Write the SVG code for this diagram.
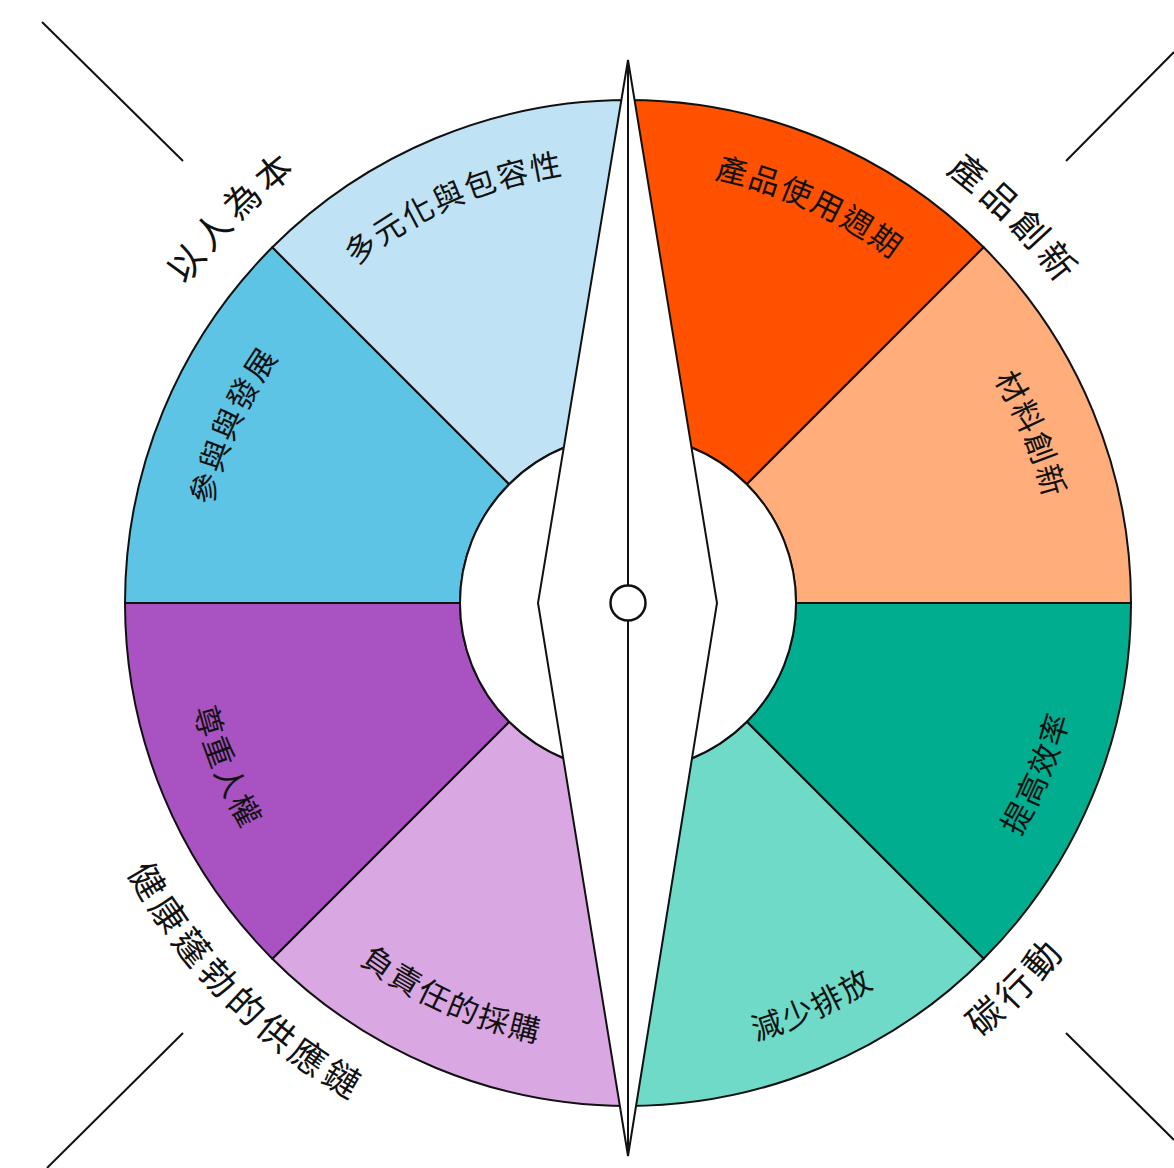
<svg xmlns="http://www.w3.org/2000/svg" xmlns:xlink="http://www.w3.org/1999/xlink" width="1174" height="1168" viewBox="0 0 1174 1168">
<style>
.sec{stroke:#111;stroke-width:2;stroke-linejoin:round}
.ln{stroke:#111;stroke-width:2;fill:none}
.in{font-family:"Noto Sans CJK TC","Noto Sans CJK SC",sans-serif;font-size:31px;letter-spacing:2px;fill:#111}
.out{font-family:"Noto Sans CJK TC","Noto Sans CJK SC",sans-serif;font-size:36px;letter-spacing:5px;fill:#111}
</style>
<defs>
<path id="p1" d="M513.01,185.54 A433,433 0 0 1 1019.15,417.27"/>
<path id="p2" d="M239.85,411.15 A433,433 0 0 1 749.53,187.40"/>
<path id="p3" d="M824.76,221.78 A429,429 0 0 1 1037.59,730.57"/>
<path id="p4" d="M217.13,719.26 A427,427 0 0 1 442.16,218.56"/>
<path id="p5" d="M224.10,799.15 A449,449 0 0 0 751.01,1034.82"/>
<path id="p6" d="M506.90,1042.63 A456,456 0 0 0 1039.92,798.60"/>
<path id="p7" d="M837.85,1007.85 A456,456 0 0 0 1063.13,466.64"/>
<path id="p8" d="M202.40,466.35 A447,447 0 0 0 419.53,998.41"/>
<path id="p9" d="M85.03,562.17 A544.5,544.5 0 0 1 573.92,61.19"/>
<path id="p10" d="M676.07,69.66 A535.5,535.5 0 0 1 1161.58,557.72"/>
<path id="p11" d="M61.45,650.08 A568.5,568.5 0 0 0 575.98,1169.11"/>
<path id="p12" d="M679.68,1160.11 A559.5,559.5 0 0 0 1185.62,648.85"/>
</defs>
<rect width="1174" height="1168" fill="#fff"/>
<g id="connectors">
<line class="ln" x1="42" y1="22" x2="183" y2="161"/>
<line class="ln" x1="1174" y1="52" x2="1066" y2="161"/>
<line class="ln" x1="183" y1="1033" x2="47" y2="1168"/>
<line class="ln" x1="1066" y1="1033" x2="1174" y2="1140"/>
</g>
<g id="sector-product-lifecycle"><path class="sec" fill="#ff5100" d="M628,100 A503,503 0 0 1 983.67,247.33 L746.79,484.21 A168,168 0 0 0 628,435 Z"/></g>
<g id="sector-material"><path class="sec" fill="#ffad7a" d="M983.67,247.33 A503,503 0 0 1 1131,603 L796,603 A168,168 0 0 0 746.79,484.21 Z"/></g>
<g id="sector-efficiency"><path class="sec" fill="#00ad8f" d="M1131,603 A503,503 0 0 1 983.67,958.67 L746.79,721.79 A168,168 0 0 0 796,603 Z"/></g>
<g id="sector-emissions"><path class="sec" fill="#6fdac8" d="M983.67,958.67 A503,503 0 0 1 628,1106 L628,771 A168,168 0 0 0 746.79,721.79 Z"/></g>
<g id="sector-sourcing"><path class="sec" fill="#d9a7e2" d="M628,1106 A503,503 0 0 1 272.33,958.67 L509.21,721.79 A168,168 0 0 0 628,771 Z"/></g>
<g id="sector-human-rights"><path class="sec" fill="#a952c2" d="M272.33,958.67 A503,503 0 0 1 125,603 L460,603 A168,168 0 0 0 509.21,721.79 Z"/></g>
<g id="sector-engagement"><path class="sec" fill="#5dc4e5" d="M125,603 A503,503 0 0 1 272.33,247.33 L509.21,484.21 A168,168 0 0 0 460,603 Z"/></g>
<g id="sector-diversity"><path class="sec" fill="#bfe3f4" d="M272.33,247.33 A503,503 0 0 1 628,100 L628,435 A168,168 0 0 0 509.21,484.21 Z"/></g>
<g id="hub">
<circle cx="628" cy="603" r="168" fill="#fff" stroke="#111" stroke-width="2"/>
<polygon points="628,60 717,603 628,1156 538,603" fill="#fff" stroke="#111" stroke-width="2" stroke-linejoin="miter"/>
<line class="ln" x1="628" y1="60" x2="628" y2="1156"/>
<circle cx="628" cy="603" r="17.5" fill="#fff" stroke="#111" stroke-width="2.5"/>
</g>
<g id="labels-inner">
<text class="in"><textPath href="#p1" xlink:href="#p1" startOffset="50%" text-anchor="middle">產品使用週期</textPath></text>
<text class="in"><textPath href="#p2" xlink:href="#p2" startOffset="50%" text-anchor="middle">多元化與包容性</textPath></text>
<text class="in"><textPath href="#p3" xlink:href="#p3" startOffset="50%" text-anchor="middle">材料創新</textPath></text>
<text class="in"><textPath href="#p4" xlink:href="#p4" startOffset="50%" text-anchor="middle">參與與發展</textPath></text>
<text class="in"><textPath href="#p5" xlink:href="#p5" startOffset="50%" text-anchor="middle">負責任的採購</textPath></text>
<text class="in"><textPath href="#p6" xlink:href="#p6" startOffset="50%" text-anchor="middle">減少排放</textPath></text>
<text class="in"><textPath href="#p7" xlink:href="#p7" startOffset="50%" text-anchor="middle">提高效率</textPath></text>
<text class="in"><textPath href="#p8" xlink:href="#p8" startOffset="50%" text-anchor="middle">尊重人權</textPath></text>
</g>
<g id="labels-outer">
<text class="out"><textPath href="#p9" xlink:href="#p9" startOffset="50%" text-anchor="middle">以人為本</textPath></text>
<text class="out"><textPath href="#p10" xlink:href="#p10" startOffset="50%" text-anchor="middle">產品創新</textPath></text>
<text class="out"><textPath href="#p11" xlink:href="#p11" startOffset="50%" text-anchor="middle">健康蓬勃的供應鏈</textPath></text>
<text class="out"><textPath href="#p12" xlink:href="#p12" startOffset="50%" text-anchor="middle">碳行動</textPath></text>
</g>
</svg>
